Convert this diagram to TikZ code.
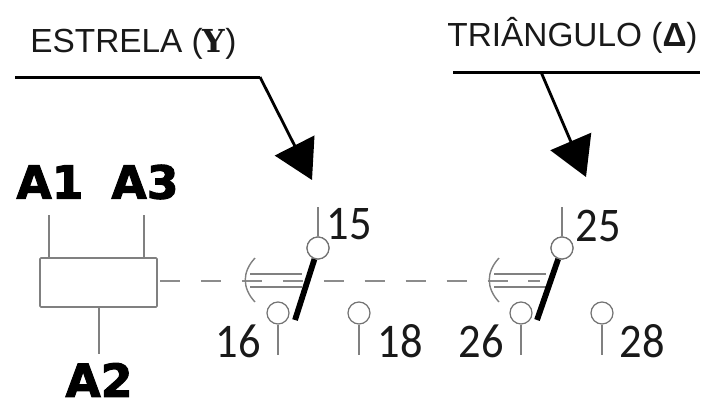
\documentclass[tikz,border=0pt]{standalone}
\usepackage{fontspec}
\setmainfont{Liberation Sans}
\newfontfamily\serifbold{DejaVu Serif}
\newfontfamily\labelfont[BoldFeatures={FakeBold=2.2}]{DejaVu Sans}
\newfontfamily\numfont[FakeStretch=0.92]{Carlito}
\usetikzlibrary{arrows.meta}
\begin{document}
\begin{tikzpicture}[
    x=0.02cm,
    y=-0.02cm,
    title/.style={inner sep=0pt, font=\fontsize{19}{19}\selectfont, text=black!90},
    terminal/.style={inner sep=0pt, font=\labelfont\bfseries\fontsize{26}{26}\selectfont},
    pinlabel/.style={inner sep=0pt, font=\numfont\fontsize{27.5}{27.5}\selectfont, text=black!90},
    contact/.style={circle, draw=black!55, fill=white, line width=0.7pt, inner sep=0pt, minimum size=0.44cm},
    coil/.style={rectangle, draw=black!50, line width=0.9pt, rounded corners=0.5pt, minimum width=2.34cm, minimum height=0.98cm},
    wire/.style={draw=black!50, line width=0.8pt},
    blade/.style={black, line width=3.3pt},
    link/.style={draw=black!45, line width=1.3pt, dash pattern=on 11.5pt off 11.8pt},
    pointer/.style={black, line width=1.6pt, -{Triangle[length=22pt, width=25pt]}},
    rule/.style={black, line width=1.7pt}
]
\useasboundingbox (0,0) rectangle (702,400);

% Titles
\node[title, anchor=base west] (star) at (30,52) {ESTRELA ({\serifbold\bfseries\fontsize{18}{18}\selectfont Y})};
\node[title, anchor=base west] (delta) at (447,46) {TRIÂNGULO ({\bfseries Δ})};

% Pointers
\coordinate (staru) at (15,77);
\coordinate (starv) at (260,77);
\coordinate (starw) at (312,180);
\coordinate (deltau) at (453,72);
\coordinate (deltav) at (700,72);
\coordinate (deltaw) at (541,72);
\coordinate (deltax) at (586,177);
\draw[rule] (staru) -- (starv);
\draw[pointer] (starv) -- (starw);
\draw[rule] (deltau) -- (deltav);
\draw[pointer] (deltaw) -- (deltax);

% Coil
\node[coil] (relay) at (98.5,282.5) {};
\node[terminal] (a1) at (50,182) {A1};
\node[terminal] (a3) at (145,182) {A3};
\node[terminal] (a2) at (99,380) {A2};
\coordinate (a1top) at (49,215);
\coordinate (a3top) at (144,215);
\coordinate (a2bot) at (99,354);
\draw[wire] (a1top) -- (a1top |- relay.north);
\draw[wire] (a3top) -- (a3top |- relay.north);
\draw[wire] (a2bot |- relay.south) -- (a2bot);

% Mechanical link
\coordinate (linka) at (160,281);
\coordinate (linkb) at (540,281);
\draw[link] (linka) -- (linkb);
\foreach \name/\xa/\xb/\xc in {one/255/250/302, two/499/494/546} {
    \coordinate (\name u) at (\xa,258);
    \coordinate (\name v) at (\xa,302);
    \draw[wire] (\name u) .. controls (\xa-13,272) and (\xa-13,288) .. (\name v);
    \coordinate (\name a) at (\xb,274);
    \coordinate (\name b) at (\xc,274);
    \coordinate (\name c) at (\xb,287);
    \coordinate (\name d) at (\xc,287);
    \draw[wire] (\name a) -- (\name b);
    \draw[wire] (\name c) -- (\name d);
}

% Contacts
\node[contact] (c15) at (318,248) {};
\node[contact] (c16) at (278,313) {};
\node[contact] (c18) at (359,313) {};
\node[contact] (c25) at (562,248) {};
\node[contact] (c26) at (521,313) {};
\node[contact] (c28) at (602,313) {};

% Wires
\foreach \pin/\xa in {c15/318, c25/562} {
    \coordinate (\pin end) at (\xa,207);
    \draw[wire] (\pin end) -- (\pin);
}
\foreach \pin/\xa in {c16/278, c18/359, c26/521, c28/602} {
    \coordinate (\pin end) at (\xa,355);
    \draw[wire] (\pin) -- (\pin end);
}

% Blades
\coordinate (bladea) at (295,320);
\coordinate (bladeb) at (537,320);
\draw[blade] (c15) -- (bladea);
\draw[blade] (c25) -- (bladeb);
\node[contact] at (318,248) {};
\node[contact] at (562,248) {};

% Pin numbers
\node[pinlabel] (n15) at (349,224) {15};
\node[pinlabel] (n16) at (238,341) {16};
\node[pinlabel] (n18) at (400,341) {18};
\node[pinlabel] (n25) at (598,226) {25};
\node[pinlabel] (n26) at (481,341) {26};
\node[pinlabel] (n28) at (642,341) {28};
\end{tikzpicture}
\end{document}
